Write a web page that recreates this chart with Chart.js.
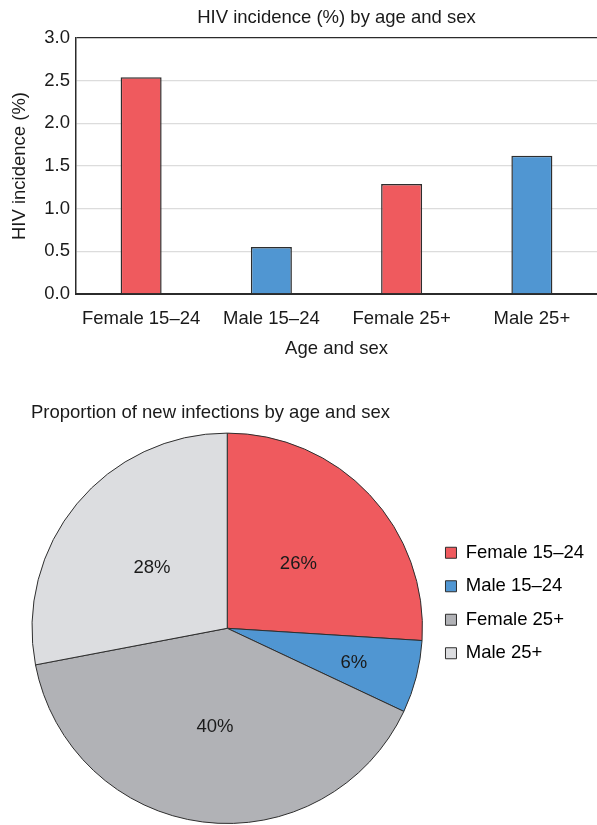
<!DOCTYPE html>
<html>
<head>
<meta charset="utf-8">
<script src="https://cdn.jsdelivr.net/npm/chart.js@4.4.1/dist/chart.umd.min.js"></script>
<style>
  html, body { margin: 0; padding: 0; background: #fff; }
  body { width: 597px; height: 825px; position: relative; overflow: hidden; }
  #barBox { position: absolute; left: 0; top: 0; width: 597px; height: 365px; }
  #pieBox { position: absolute; left: 0; top: 390px; width: 597px; height: 435px; }
</style>
</head>
<body>
<div id="barBox"><canvas id="barChart" width="597" height="365"></canvas></div>
<div id="pieBox"><canvas id="pieChart" width="597" height="435"></canvas></div>
<script>
// --- DATA ---
const groups = ['Female 15–24', 'Male 15–24', 'Female 25+', 'Male 25+'];
const incidence = [2.54, 0.55, 1.29, 1.62];
const newInfectionShare = [26, 6, 40, 28];
const yTicks = [0, 0.5, 1.0, 1.5, 2.0, 2.5, 3.0];

const barColors = ['#ef5a5e', '#5096d2', '#ef5a5e', '#5096d2'];
const pieColors = ['#ef5a5e', '#5096d2', '#b1b2b6', '#dcdde0'];
const edge = '#2e2e2e';
const textColor = '#1a1a1a';

Chart.defaults.font.family = '"Liberation Sans", Arial, Helvetica, sans-serif';
Chart.defaults.font.size = 18.5;
Chart.defaults.color = textColor;

// --- BAR CHART ---
new Chart(document.getElementById('barChart'), {
    type: 'bar',
    data: {
        labels: groups,
        datasets: [{
            data: incidence,
            backgroundColor: barColors,
            borderColor: edge,
            borderWidth: 1.5,
            borderSkipped: 'bottom',
            categoryPercentage: 1,
            barPercentage: 0.315
        }]
    },
    options: {
        responsive: false,
        animation: false,
        layout: { padding: 0 },
        plugins: {
            legend: { display: false },
            tooltip: { enabled: false },
            title: {
                display: true,
                text: 'HIV incidence (%) by age and sex',
                fullSize: false,
                font: { size: 18.5, weight: 'normal' },
                color: textColor,
                padding: { top: 7, bottom: 8.8 }
            }
        },
        scales: {
            x: {
                grid: { display: false, drawTicks: false },
                border: { display: true, color: '#2b2b2b', width: 2 },
                ticks: { padding: 14, maxRotation: 0, color: textColor },
                title: { display: true, text: 'Age and sex', padding: 5, color: textColor },
                afterFit: s => { s.height = 71; }
            },
            y: {
                min: 0,
                max: 3,
                afterBuildTicks: s => { s.ticks = yTicks.map(v => ({ value: v })); },
                grid: {
                    drawTicks: false,
                    lineWidth: 1.3,
                    color: c => c.tick && c.tick.value === 3 ? '#2b2b2b' : (c.tick && c.tick.value === 0 ? 'rgba(0,0,0,0)' : '#dcdcdc')
                },
                border: { display: true, color: '#2b2b2b', width: 1.5 },
                ticks: { padding: 6, color: textColor, callback: v => Number(v).toFixed(1) },
                title: { display: true, text: 'HIV incidence (%)', padding: 9, color: textColor },
                afterFit: s => { s.width = 76; }
            }
        }
    }
});

// --- PIE CHART ---
const sliceLabels = {
    id: 'sliceLabels',
    afterDatasetsDraw(chart) {
        const ctx = chart.ctx;
        const meta = chart.getDatasetMeta(0);
        ctx.save();
        ctx.font = '18.5px "Liberation Sans", Arial, sans-serif';
        ctx.fillStyle = textColor;
        ctx.textAlign = 'center';
        ctx.textBaseline = 'middle';
        meta.data.forEach((arc, i) => {
            const p = arc.getProps(['x', 'y', 'startAngle', 'endAngle', 'outerRadius'], true);
            const mid = (p.startAngle + p.endAngle) / 2;
            const v = newInfectionShare[i];
            const r = p.outerRadius * (v < 10 ? 0.67 : 0.5);
            ctx.fillText(v + '%', p.x + Math.cos(mid) * r, p.y + Math.sin(mid) * r + 2);
        });
        ctx.restore();
    }
};

// nudge the legend box so it sits where the original one does
const legendNudge = {
    id: 'legendNudge',
    afterLayout(chart) {
        const lg = chart.legend;
        if (!lg) return;
        lg.left += 7; lg.right += 7;
        lg.top -= 4; lg.bottom -= 4;
    }
};

new Chart(document.getElementById('pieChart'), {
    type: 'pie',
    data: {
        labels: groups,
        datasets: [{
            data: newInfectionShare,
            backgroundColor: pieColors,
            borderColor: edge,
            borderWidth: 1
        }]
    },
    options: {
        responsive: false,
        animation: false,
        layout: { padding: { left: 31, top: 0, right: 10, bottom: 1 } },
        plugins: {
            tooltip: { enabled: false },
            title: {
                display: true,
                text: 'Proportion of new infections by age and sex',
                align: 'start',
                font: { size: 18.5, weight: 'normal' },
                color: textColor,
                padding: { top: 12, bottom: 8.4 }
            },
            legend: {
                position: 'right',
                align: 'center',
                labels: {
                    boxWidth: 11,
                    boxHeight: 11,
                    padding: 15,
                    color: textColor,
                    font: { size: 18.5 },
                    generateLabels: chart => groups.map((g, i) => ({
                        text: g,
                        fillStyle: pieColors[i],
                        strokeStyle: edge,
                        lineWidth: 1,
                        index: i
                    }))
                }
            }
        }
    },
    plugins: [sliceLabels, legendNudge]
});
</script>
</body>
</html>
